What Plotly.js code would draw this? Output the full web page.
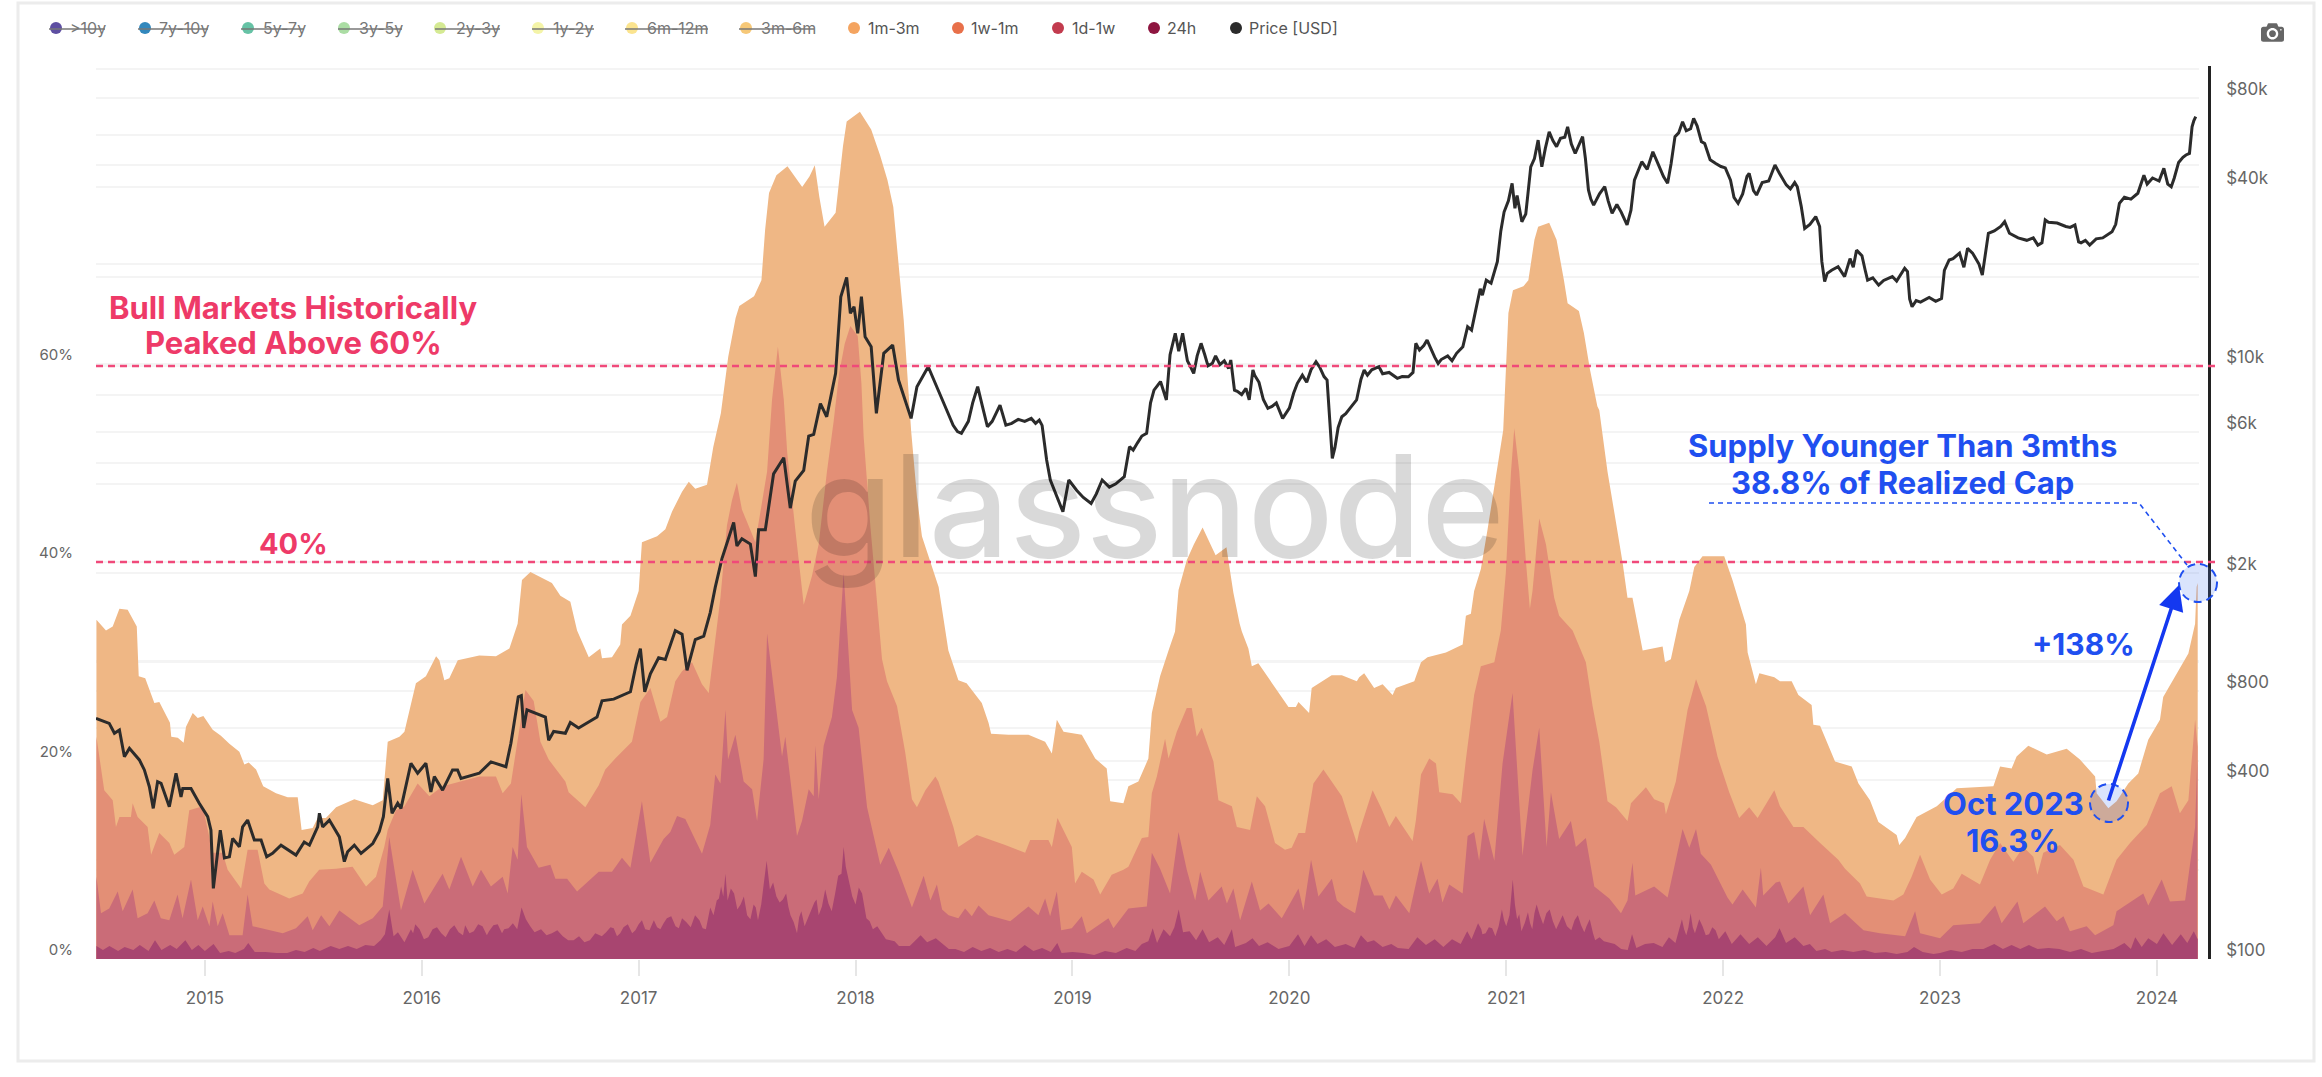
<!DOCTYPE html>
<html><head><meta charset="utf-8">
<script src="https://cdn.plot.ly/plotly-3.0.1.min.js"></script>
<style>
html,body{margin:0;padding:0;background:#fff}
#chart{width:2322px;height:1077px}
.js-plotly-plot .plotly .modebar{top:16px !important;right:34px !important}
.js-plotly-plot .plotly .modebar-btn{font-size:23px !important}
</style></head><body><div id="chart"></div>
<script>
// Stacked age bands: [decimal year, cumulative % of realized cap at the top of the band]
const band1m3m=[[2014.50,34.2],[2014.544,33.1],[2014.575,33.5],[2014.606,35.3],[2014.644,35.2],[2014.686,33.5],[2014.695,28.5],[2014.725,28.3],[2014.767,25.8],[2014.79,25.9],[2014.839,23.8],[2014.845,22.4],[2014.875,22.3],[2014.902,21.8],[2014.913,23.4],[2014.944,24.8],[2014.967,24.3],[2014.993,24.5],[2015.036,23.1],[2015.074,22.5],[2015.113,21.7],[2015.159,20.9],[2015.182,19.6],[2015.202,19.8],[2015.236,19.1],[2015.269,17.4],[2015.328,16.7],[2015.382,16.3],[2015.428,16.3],[2015.446,13.0],[2015.497,13.2],[2015.52,14.2],[2015.558,14.2],[2015.605,15.3],[2015.689,16.1],[2015.774,15.5],[2015.82,16.0],[2015.843,21.9],[2015.897,22.4],[2015.92,22.9],[2015.973,27.8],[2016.019,28.5],[2016.066,30.5],[2016.081,30.1],[2016.104,28.1],[2016.127,28.3],[2016.166,30.1],[2016.265,30.6],[2016.342,30.5],[2016.404,31.3],[2016.442,33.8],[2016.462,38.2],[2016.501,39.0],[2016.60,37.9],[2016.639,36.6],[2016.685,36.0],[2016.716,33.1],[2016.77,30.4],[2016.823,31.3],[2016.831,30.3],[2016.877,30.4],[2016.915,31.7],[2016.923,33.7],[2016.962,34.6],[2017.0,37.1],[2017.015,42.0],[2017.085,42.6],[2017.123,43.3],[2017.154,45.1],[2017.20,47.1],[2017.231,48.1],[2017.261,47.4],[2017.315,47.8],[2017.344,51.6],[2017.379,55.0],[2017.413,60.7],[2017.447,64.6],[2017.464,65.8],[2017.532,66.8],[2017.566,68.4],[2017.583,73.5],[2017.601,77.2],[2017.635,79.0],[2017.686,79.9],[2017.754,77.8],[2017.788,78.9],[2017.812,80.0],[2017.833,76.8],[2017.857,73.8],[2017.908,75.2],[2017.942,81.9],[2017.959,84.4],[2018.02,85.4],[2018.072,83.6],[2018.113,81.0],[2018.147,78.5],[2018.174,75.8],[2018.198,69.8],[2018.222,64.4],[2018.256,53.3],[2018.283,46.6],[2018.306,42.6],[2018.36,38.9],[2018.383,37.5],[2018.428,31.1],[2018.474,28.1],[2018.512,27.8],[2018.582,25.8],[2018.613,23.8],[2018.625,22.7],[2018.705,22.6],[2018.797,22.6],[2018.874,21.9],[2018.905,20.7],[2018.928,24.1],[2018.959,22.9],[2019.043,22.6],[2019.105,20.2],[2019.158,19.2],[2019.174,15.9],[2019.235,15.7],[2019.258,17.4],[2019.304,17.9],[2019.35,20.2],[2019.366,24.8],[2019.404,28.5],[2019.443,31.1],[2019.473,33.0],[2019.489,37.2],[2019.527,40.2],[2019.56,41.8],[2019.60,43.5],[2019.66,40.7],[2019.71,41.5],[2019.719,40.2],[2019.742,36.9],[2019.771,33.8],[2019.781,33.0],[2019.811,31.3],[2019.827,29.5],[2019.857,29.8],[2019.919,27.8],[2019.957,26.6],[2019.996,25.4],[2020.03,25.4],[2020.042,25.9],[2020.091,24.8],[2020.103,27.3],[2020.195,28.6],[2020.242,28.6],[2020.311,28.0],[2020.322,28.4],[2020.345,28.8],[2020.391,27.3],[2020.43,27.7],[2020.476,26.6],[2020.491,27.3],[2020.576,28.0],[2020.607,29.9],[2020.637,30.4],[2020.722,30.9],[2020.799,31.7],[2020.814,34.6],[2020.837,34.8],[2020.852,37.1],[2020.883,39.3],[2020.914,43.3],[2020.952,48.7],[2020.986,53.3],[2021.01,65.1],[2021.031,67.4],[2021.079,67.8],[2021.102,68.4],[2021.13,72.5],[2021.147,73.8],[2021.198,74.2],[2021.232,72.5],[2021.266,68.4],[2021.283,66.1],[2021.335,65.3],[2021.358,63.1],[2021.386,59.4],[2021.42,55.7],[2021.429,55.3],[2021.467,49.1],[2021.506,44.0],[2021.536,40.0],[2021.559,36.4],[2021.582,36.4],[2021.629,31.1],[2021.721,31.5],[2021.732,29.9],[2021.759,30.2],[2021.798,34.2],[2021.844,37.1],[2021.867,39.5],[2021.905,40.6],[2022.005,40.6],[2022.043,38.2],[2022.105,33.7],[2022.113,30.9],[2022.151,27.7],[2022.167,28.8],[2022.236,28.4],[2022.262,28.0],[2022.316,28.0],[2022.347,26.6],[2022.408,25.6],[2022.416,23.6],[2022.447,23.5],[2022.516,19.9],[2022.593,19.4],[2022.624,17.7],[2022.677,16.0],[2022.716,13.8],[2022.80,12.5],[2022.812,11.5],[2022.839,12.2],[2022.892,14.3],[2022.985,15.4],[2023.077,17.2],[2023.246,17.4],[2023.277,19.4],[2023.33,19.2],[2023.353,20.4],[2023.407,21.5],[2023.492,20.6],[2023.584,21.2],[2023.645,20.1],[2023.715,18.4],[2023.722,16.7],[2023.776,15.2],[2023.814,15.9],[2023.868,17.7],[2023.914,18.7],[2023.96,22.1],[2024.014,24.1],[2024.029,26.4],[2024.091,28.8],[2024.145,30.8],[2024.176,33.8],[2024.183,37.5],[2024.188,37.9]];
const band1w1m=[[2014.50,22.4],[2014.536,17.0],[2014.575,16.0],[2014.59,13.3],[2014.606,14.3],[2014.659,14.3],[2014.667,15.7],[2014.69,14.3],[2014.736,13.3],[2014.752,10.5],[2014.79,12.7],[2014.836,11.7],[2014.859,10.5],[2014.905,11.3],[2014.928,15.0],[2014.99,15.4],[2015.036,10.7],[2015.082,10.7],[2015.105,9.0],[2015.167,7.1],[2015.197,11.0],[2015.243,11.0],[2015.274,7.6],[2015.297,7.0],[2015.389,6.1],[2015.451,6.6],[2015.481,7.8],[2015.527,9.0],[2015.605,9.1],[2015.681,9.3],[2015.743,7.3],[2015.789,8.3],[2015.827,11.3],[2015.843,13.0],[2015.881,15.0],[2015.92,15.4],[2015.981,17.7],[2016.035,16.4],[2016.096,17.4],[2016.265,18.4],[2016.342,18.4],[2016.373,16.7],[2016.411,17.7],[2016.45,23.1],[2016.478,27.1],[2016.516,26.0],[2016.547,21.9],[2016.585,20.1],[2016.662,17.9],[2016.677,16.8],[2016.754,15.3],[2016.816,17.5],[2016.846,19.1],[2016.892,20.2],[2016.969,21.9],[2017.008,25.9],[2017.054,27.3],[2017.10,23.9],[2017.131,24.4],[2017.169,28.0],[2017.20,29.0],[2017.246,29.9],[2017.292,27.7],[2017.323,26.8],[2017.346,30.9],[2017.377,36.4],[2017.407,43.7],[2017.43,46.2],[2017.453,48.0],[2017.476,45.3],[2017.538,42.0],[2017.592,49.1],[2017.615,56.4],[2017.642,61.7],[2017.669,56.4],[2017.685,51.0],[2017.722,43.3],[2017.761,35.7],[2017.799,38.6],[2017.83,41.8],[2017.868,49.1],[2017.899,54.2],[2017.925,59.1],[2017.95,62.0],[2017.976,63.8],[2018.01,62.8],[2018.027,58.0],[2018.037,52.7],[2018.068,43.7],[2018.099,36.0],[2018.122,30.2],[2018.145,28.0],[2018.191,25.5],[2018.229,20.8],[2018.26,16.1],[2018.283,15.3],[2018.322,17.0],[2018.368,18.4],[2018.382,17.9],[2018.451,13.3],[2018.474,11.3],[2018.559,12.5],[2018.69,11.5],[2018.782,10.7],[2018.805,12.0],[2018.889,12.0],[2018.905,11.3],[2018.931,14.2],[2018.997,11.3],[2019.012,7.6],[2019.043,8.8],[2019.097,8.0],[2019.128,6.5],[2019.181,8.5],[2019.235,9.0],[2019.258,9.3],[2019.32,12.2],[2019.35,12.3],[2019.366,16.7],[2019.389,18.4],[2019.427,22.2],[2019.443,20.2],[2019.481,22.9],[2019.527,25.3],[2019.55,25.3],[2019.573,22.4],[2019.596,23.3],[2019.65,19.9],[2019.673,16.0],[2019.735,15.4],[2019.758,13.3],[2019.819,13.0],[2019.85,16.4],[2019.888,15.4],[2019.934,11.7],[2019.98,11.0],[2020.011,11.2],[2020.042,12.7],[2020.073,12.7],[2020.111,17.7],[2020.157,19.1],[2020.242,16.4],[2020.311,11.7],[2020.322,12.8],[2020.384,17.0],[2020.422,15.3],[2020.461,13.3],[2020.491,14.4],[2020.568,11.9],[2020.583,13.9],[2020.607,18.6],[2020.645,20.2],[2020.676,19.7],[2020.691,16.8],[2020.753,16.6],[2020.791,15.7],[2020.814,20.1],[2020.852,26.6],[2020.883,29.5],[2020.945,29.9],[2020.975,33.1],[2020.998,38.9],[2021.022,49.1],[2021.037,53.5],[2021.06,49.1],[2021.091,40.0],[2021.109,35.3],[2021.121,37.1],[2021.152,44.4],[2021.183,41.8],[2021.221,36.4],[2021.244,34.6],[2021.306,33.1],[2021.367,29.9],[2021.398,25.5],[2021.429,21.9],[2021.467,15.9],[2021.506,15.3],[2021.559,13.9],[2021.575,15.7],[2021.644,17.3],[2021.682,16.1],[2021.728,15.7],[2021.736,14.6],[2021.782,17.9],[2021.836,25.1],[2021.875,28.2],[2021.921,25.5],[2021.974,20.4],[2022.028,16.8],[2022.074,14.2],[2022.12,15.3],[2022.159,14.2],[2022.236,17.0],[2022.262,15.4],[2022.324,13.3],[2022.37,13.3],[2022.447,11.7],[2022.531,10.0],[2022.562,9.1],[2022.631,7.6],[2022.662,6.3],[2022.785,5.9],[2022.831,6.5],[2022.869,8.3],[2022.908,10.5],[2022.954,8.0],[2023.008,6.5],[2023.061,7.1],[2023.10,8.6],[2023.184,7.5],[2023.231,10.0],[2023.277,11.7],[2023.338,9.8],[2023.384,11.3],[2023.43,10.3],[2023.449,8.5],[2023.476,10.7],[2023.553,11.5],[2023.615,10.0],[2023.661,7.3],[2023.753,6.5],[2023.814,10.0],[2023.876,11.7],[2023.953,13.5],[2024.014,16.7],[2024.068,17.4],[2024.106,14.7],[2024.145,16.0],[2024.176,24.1],[2024.188,21.4]];
const band1d1w=[[2014.50,8.3],[2014.521,4.6],[2014.559,5.1],[2014.598,6.8],[2014.621,4.8],[2014.667,7.0],[2014.69,4.1],[2014.736,4.6],[2014.767,5.9],[2014.797,4.1],[2014.836,3.9],[2014.874,6.5],[2014.897,4.1],[2014.936,8.0],[2014.967,3.9],[2014.99,5.3],[2015.021,3.3],[2015.036,5.8],[2015.059,3.3],[2015.082,4.6],[2015.113,2.4],[2015.174,2.4],[2015.197,6.5],[2015.22,3.3],[2015.359,2.6],[2015.42,3.1],[2015.474,4.3],[2015.497,2.9],[2015.536,4.4],[2015.574,3.3],[2015.62,4.9],[2015.712,3.4],[2015.774,4.1],[2015.82,5.3],[2015.85,12.3],[2015.904,4.9],[2015.958,9.0],[2016.012,5.6],[2016.096,8.6],[2016.127,7.0],[2016.181,10.3],[2016.235,7.3],[2016.273,9.0],[2016.319,7.3],[2016.373,8.3],[2016.396,6.6],[2016.419,11.3],[2016.442,10.0],[2016.459,16.6],[2016.485,11.3],[2016.539,9.2],[2016.593,9.5],[2016.616,8.1],[2016.67,8.1],[2016.716,6.8],[2016.816,8.8],[2016.877,8.8],[2016.923,10.2],[2016.962,9.2],[2017.015,15.9],[2017.054,9.7],[2017.115,12.1],[2017.146,12.8],[2017.177,14.4],[2017.215,14.1],[2017.292,10.6],[2017.33,13.5],[2017.353,18.6],[2017.377,17.7],[2017.40,25.1],[2017.412,20.1],[2017.446,22.6],[2017.484,17.9],[2017.523,17.1],[2017.546,13.9],[2017.576,20.1],[2017.592,32.8],[2017.63,25.9],[2017.661,20.4],[2017.676,22.4],[2017.699,17.9],[2017.73,12.4],[2017.753,13.9],[2017.784,17.1],[2017.807,16.4],[2017.815,21.5],[2017.83,16.1],[2017.853,21.5],[2017.891,24.4],[2017.914,28.4],[2017.945,38.9],[2017.984,25.1],[2018.014,23.3],[2018.053,15.3],[2018.114,9.5],[2018.153,11.2],[2018.199,8.8],[2018.26,5.2],[2018.314,8.4],[2018.345,5.9],[2018.375,7.5],[2018.399,5.0],[2018.429,4.4],[2018.474,4.1],[2018.505,5.1],[2018.536,4.3],[2018.567,5.4],[2018.613,4.4],[2018.713,3.8],[2018.797,5.3],[2018.843,4.4],[2018.874,6.1],[2018.897,4.3],[2018.928,6.8],[2018.948,2.9],[2018.997,3.1],[2019.043,4.3],[2019.066,2.6],[2019.166,4.1],[2019.189,3.1],[2019.258,5.1],[2019.343,5.3],[2019.366,10.7],[2019.404,9.1],[2019.45,6.6],[2019.489,12.8],[2019.527,9.0],[2019.566,5.9],[2019.589,8.8],[2019.627,5.9],[2019.688,7.3],[2019.712,5.6],[2019.742,7.1],[2019.773,3.9],[2019.827,7.8],[2019.865,4.9],[2019.904,5.6],[2019.965,4.1],[2020.042,7.1],[2020.065,4.9],[2020.10,10.0],[2020.134,6.3],[2020.196,8.1],[2020.219,5.9],[2020.25,5.3],[2020.303,4.6],[2020.322,6.6],[2020.341,9.0],[2020.391,6.4],[2020.43,6.4],[2020.461,5.0],[2020.491,6.4],[2020.553,4.6],[2020.607,9.9],[2020.645,6.6],[2020.683,8.1],[2020.706,5.7],[2020.737,7.5],[2020.799,6.6],[2020.822,12.4],[2020.852,12.8],[2020.875,9.9],[2020.898,14.1],[2020.945,9.9],[2020.983,19.7],[2021.029,26.8],[2021.075,10.4],[2021.121,19.0],[2021.152,23.3],[2021.186,11.3],[2021.206,16.8],[2021.244,12.1],[2021.298,13.9],[2021.321,11.3],[2021.367,12.2],[2021.406,7.3],[2021.475,6.1],[2021.529,4.6],[2021.559,5.9],[2021.582,9.7],[2021.595,6.4],[2021.682,7.3],[2021.744,6.2],[2021.813,13.1],[2021.844,11.2],[2021.875,13.1],[2021.897,10.6],[2021.944,9.5],[2022.02,6.2],[2022.043,5.5],[2022.09,7.0],[2022.151,5.2],[2022.174,9.2],[2022.185,6.4],[2022.243,7.7],[2022.262,7.8],[2022.301,5.6],[2022.37,7.3],[2022.401,4.4],[2022.462,6.5],[2022.493,3.6],[2022.562,4.6],[2022.647,2.9],[2022.723,2.6],[2022.839,2.3],[2022.885,4.8],[2022.908,2.6],[2023.0,2.1],[2023.061,3.4],[2023.184,3.6],[2023.254,5.4],[2023.284,3.6],[2023.357,5.8],[2023.384,3.6],[2023.484,5.3],[2023.538,3.8],[2023.569,4.3],[2023.599,2.8],[2023.676,3.3],[2023.715,2.4],[2023.799,3.4],[2023.814,4.8],[2023.937,6.6],[2023.96,5.4],[2024.022,8.0],[2024.06,5.8],[2024.13,5.9],[2024.176,13.3],[2024.186,20.1]];
const band24h=[[2014.50,1.3],[2014.53,.9],[2014.56,1.3],[2014.60,.8],[2014.63,1.2],[2014.67,.9],[2014.70,1.4],[2014.74,.8],[2014.77,1.9],[2014.80,.9],[2014.84,1.4],[2014.87,1.0],[2014.91,1.9],[2014.94,.9],[2014.97,1.4],[2015.0,.8],[2015.04,1.5],[2015.07,.6],[2015.11,.8],[2015.14,.6],[2015.18,1.0],[2015.20,1.6],[2015.23,.7],[2015.28,.7],[2015.33,.6],[2015.38,.6],[2015.42,.9],[2015.46,.7],[2015.50,1.1],[2015.53,.8],[2015.58,1.3],[2015.62,1.0],[2015.66,1.3],[2015.70,1.0],[2015.74,1.4],[2015.78,1.3],[2015.81,1.9],[2015.83,2.5],[2015.85,5.0],[2015.87,2.3],[2015.89,2.7],[2015.92,1.7],[2015.95,3.0],[2015.97,3.5],[2016.01,2.0],[2016.05,3.0],[2016.09,2.6],[2016.13,3.0],[2016.17,2.7],[2016.20,3.4],[2016.24,2.8],[2016.28,3.3],[2016.31,2.8],[2016.35,3.5],[2016.38,3.0],[2016.42,3.6],[2016.44,3.0],[2016.46,5.2],[2016.50,3.3],[2016.55,3.0],[2016.60,2.6],[2016.65,2.3],[2016.70,1.9],[2016.75,1.7],[2016.80,2.6],[2016.83,2.3],[2016.87,3.2],[2016.90,2.3],[2016.93,3.2],[2016.97,2.6],[2017.0,3.5],[2017.03,3.0],[2017.07,3.9],[2017.10,3.0],[2017.13,4.1],[2017.17,3.3],[2017.20,4.1],[2017.24,3.2],[2017.28,3.9],[2017.31,3.0],[2017.33,5.2],[2017.36,5.9],[2017.38,7.3],[2017.40,8.6],[2017.41,5.9],[2017.44,6.6],[2017.47,5.5],[2017.50,4.4],[2017.53,5.5],[2017.55,3.9],[2017.58,8.1],[2017.59,9.9],[2017.62,7.7],[2017.65,5.7],[2017.68,6.6],[2017.70,4.4],[2017.73,2.6],[2017.75,4.8],[2017.78,4.1],[2017.81,5.7],[2017.83,4.4],[2017.86,7.0],[2017.89,4.8],[2017.92,8.4],[2017.945,11.3],[2017.97,7.7],[2018.0,5.5],[2018.03,6.6],[2018.05,4.1],[2018.08,3.0],[2018.12,2.6],[2018.16,1.9],[2018.20,1.3],[2018.25,1.3],[2018.30,2.4],[2018.33,1.7],[2018.37,2.1],[2018.40,1.5],[2018.43,1.0],[2018.46,1.0],[2018.50,.7],[2018.54,1.2],[2018.58,.8],[2018.62,1.1],[2018.66,.7],[2018.70,1.0],[2018.74,.7],[2018.78,1.4],[2018.82,.8],[2018.86,1.1],[2018.90,.7],[2018.93,1.6],[2018.95,.6],[2019.0,.7],[2019.05,.6],[2019.10,.4],[2019.15,.8],[2019.20,.6],[2019.25,1.1],[2019.29,.8],[2019.32,1.5],[2019.35,1.8],[2019.37,3.1],[2019.39,1.6],[2019.42,3.0],[2019.45,2.3],[2019.47,3.2],[2019.49,5.0],[2019.51,2.7],[2019.54,2.8],[2019.57,1.9],[2019.60,3.0],[2019.63,1.7],[2019.67,2.2],[2019.70,1.4],[2019.735,3.0],[2019.75,1.2],[2019.80,1.6],[2019.83,2.1],[2019.86,1.3],[2019.90,1.7],[2019.95,1.0],[2020.0,1.3],[2020.04,2.5],[2020.07,1.3],[2020.10,2.4],[2020.13,1.5],[2020.17,2.0],[2020.21,1.2],[2020.26,1.5],[2020.30,1.1],[2020.33,2.4],[2020.36,1.7],[2020.39,1.9],[2020.43,1.2],[2020.47,1.5],[2020.50,1.1],[2020.55,1.0],[2020.59,2.2],[2020.63,1.4],[2020.67,2.0],[2020.71,1.2],[2020.75,2.0],[2020.79,1.5],[2020.82,2.8],[2020.84,2.0],[2020.87,3.6],[2020.89,2.5],[2020.92,3.2],[2020.95,2.3],[2020.98,5.0],[2021.0,3.3],[2021.03,8.0],[2021.05,4.0],[2021.07,2.8],[2021.10,4.7],[2021.12,3.0],[2021.14,5.5],[2021.17,3.5],[2021.20,5.0],[2021.23,3.0],[2021.26,4.4],[2021.30,2.9],[2021.33,4.4],[2021.36,2.7],[2021.385,4.0],[2021.41,1.9],[2021.45,1.8],[2021.50,1.5],[2021.53,1.0],[2021.56,.9],[2021.58,2.5],[2021.60,1.1],[2021.64,1.5],[2021.68,1.6],[2021.72,1.2],[2021.75,2.2],[2021.78,1.6],[2021.81,4.0],[2021.83,2.4],[2021.85,4.6],[2021.87,2.6],[2021.89,4.0],[2021.92,2.4],[2021.95,3.2],[2021.98,2.0],[2022.01,2.8],[2022.04,1.5],[2022.08,2.5],[2022.12,1.5],[2022.16,2.2],[2022.20,1.3],[2022.24,2.2],[2022.26,3.1],[2022.29,1.6],[2022.33,2.2],[2022.37,1.3],[2022.40,1.5],[2022.43,.8],[2022.47,1.0],[2022.50,.7],[2022.55,.9],[2022.60,.7],[2022.65,.9],[2022.70,.6],[2022.75,.7],[2022.80,.5],[2022.85,.7],[2022.88,1.2],[2022.92,.7],[2022.97,.5],[2023.0,.6],[2023.05,.9],[2023.10,.7],[2023.15,1.0],[2023.20,1.0],[2023.25,1.5],[2023.29,1.0],[2023.33,1.4],[2023.37,1.0],[2023.41,1.4],[2023.45,1.0],[2023.50,1.1],[2023.55,1.0],[2023.60,.7],[2023.65,1.0],[2023.70,.6],[2023.75,.8],[2023.80,1.0],[2023.85,1.6],[2023.88,1.0],[2023.90,2.2],[2023.93,1.2],[2023.96,2.1],[2024.0,1.5],[2024.03,2.6],[2024.07,1.4],[2024.11,2.5],[2024.14,1.6],[2024.17,2.8],[2024.188,2.0]];
// Finer readings of the spiky 24h band
const band24hDetail=[[2015.96,2.6],[2015.99,3.0],[2016.03,2.2],[2016.07,3.2],[2016.11,2.2],[2016.15,3.4],[2016.19,2.4],[2016.22,2.6],[2016.26,3.5],[2016.30,2.4],[2016.33,3.4],[2016.37,2.6],[2016.40,3.1],[2016.48,4.0],[2016.52,2.7],[2016.575,2.4],[2016.625,2.9],[2016.675,1.9],[2016.725,2.3],[2016.775,1.9],[2016.85,2.7],[2016.885,3.1],[2016.915,2.6],[2016.95,3.5],[2016.985,2.9],[2017.015,3.9],[2017.05,2.9],[2017.085,3.2],[2017.115,3.6],[2017.15,4.3],[2017.185,3.1],[2017.22,3.7],[2017.26,4.4],[2017.295,3.1],[2017.345,4.4],[2017.37,6.1],[2017.39,6.3],[2017.425,7.1],[2017.455,5.0],[2017.485,6.3],[2017.515,4.0],[2017.54,5.2],[2017.565,5.5],[2017.605,7.0],[2017.635,6.3],[2017.665,6.0],[2017.69,5.3],[2017.715,3.7],[2017.74,4.2],[2017.765,3.3],[2017.795,4.9],[2017.82,6.0],[2017.845,5.3],[2017.875,5.6],[2017.905,6.5],[2017.935,8.6],[2017.955,9.3],[2017.985,6.3],[2018.015,7.2],[2018.04,5.2],[2018.065,3.8],[2018.10,3.3],[2018.14,2.0],[2018.18,1.8],[2020.885,3.0],[2020.905,2.6],[2020.935,3.1],[2020.965,3.3],[2020.99,3.9],[2021.015,4.4],[2021.04,5.5],[2021.06,4.5],[2021.085,3.6],[2021.11,3.6],[2021.13,4.6],[2021.155,4.4],[2021.185,4.6],[2021.215,3.8],[2021.245,3.7],[2021.28,3.3],[2021.315,3.9],[2021.345,3.4],[2021.37,3.3],[2021.40,2.6],[2021.43,2.2],[2021.82,3.0],[2021.84,3.2],[2021.86,3.2],[2021.88,3.3],[2021.905,3.3],[2021.935,2.5],[2021.965,2.9],[2021.995,2.4]];
// Bitcoin price: [decimal year, USD]
const priceUsd=[[2014.498,648],[2014.559,623],[2014.583,577],[2014.606,592],[2014.629,481],[2014.652,513],[2014.698,469],[2014.721,434],[2014.744,381],[2014.762,322],[2014.782,396],[2014.798,391],[2014.836,326],[2014.867,423],[2014.89,352],[2014.898,376],[2014.936,376],[2014.974,335],[2015.013,302],[2015.028,272],[2015.039,173],[2015.054,216],[2015.071,272],[2015.09,219],[2015.113,221],[2015.128,255],[2015.159,239],[2015.174,279],[2015.197,294],[2015.228,252],[2015.259,252],[2015.285,221],[2015.312,227],[2015.351,242],[2015.42,224],[2015.458,248],[2015.482,242],[2015.52,279],[2015.528,310],[2015.543,279],[2015.574,294],[2015.62,258],[2015.643,213],[2015.658,230],[2015.689,242],[2015.72,227],[2015.774,245],[2015.804,269],[2015.823,302],[2015.843,406],[2015.863,310],[2015.889,335],[2015.904,322],[2015.95,457],[2015.981,423],[2016.019,457],[2016.042,366],[2016.058,412],[2016.096,371],[2016.142,434],[2016.165,434],[2016.181,406],[2016.265,423],[2016.319,462],[2016.388,445],[2016.411,534],[2016.445,766],[2016.459,773],[2016.47,601],[2016.485,692],[2016.524,673],[2016.57,654],[2016.585,546],[2016.608,585],[2016.662,577],[2016.685,627],[2016.723,601],[2016.769,627],[2016.808,654],[2016.831,742],[2016.885,752],[2016.962,796],[2016.988,981],[2017.008,1113],[2017.028,796],[2017.054,915],[2017.092,1037],[2017.123,1023],[2017.169,1280],[2017.2,1245],[2017.223,940],[2017.261,1194],[2017.3,1227],[2017.33,1472],[2017.353,1790],[2017.384,2239],[2017.4,2437],[2017.438,2963],[2017.453,2470],[2017.476,2612],[2017.515,2506],[2017.538,1947],[2017.553,2800],[2017.584,2800],[2017.622,4324],[2017.669,4899],[2017.699,3313],[2017.722,4086],[2017.761,4444],[2017.784,5798],[2017.807,5877],[2017.838,7455],[2017.867,6735],[2017.908,9434],[2017.932,17100],[2017.959,19870],[2017.976,15030],[2017.993,15820],[2018.01,12880],[2018.027,17100],[2018.044,12530],[2018.072,11590],[2018.096,6918],[2018.13,11020],[2018.171,11750],[2018.198,8954],[2018.256,6651],[2018.283,8505],[2018.335,9931],[2018.369,8730],[2018.42,7096],[2018.488,5922],[2018.563,8505],[2018.608,6232],[2018.666,7375],[2018.693,6311],[2018.847,6564],[2018.881,4813],[2018.898,4121],[2018.956,3221],[2018.983,4121],[2019.086,3437],[2019.137,4121],[2019.239,4227],[2019.263,5337],[2019.342,5922],[2019.376,8279],[2019.406,8851],[2019.433,7674],[2019.474,12880],[2019.508,12880],[2019.559,9434],[2019.593,11910],[2019.645,10190],[2019.73,10460],[2019.747,8279],[2019.815,7674],[2019.832,9683],[2019.901,7190],[2019.969,6651],[2020.037,8730],[2020.123,10320],[2020.174,8954],[2020.198,4878],[2020.242,6735],[2020.31,7674],[2020.345,9683],[2020.413,9931],[2020.498,9078],[2020.549,9183],[2020.583,11910],[2020.635,12220],[2020.686,10190],[2020.771,11020],[2020.822,13550],[2020.908,19450],[2020.959,22440],[2021.027,41250],[2021.072,30620],[2021.113,46900],[2021.147,57680],[2021.164,46900],[2021.198,61520],[2021.232,54800],[2021.283,63970],[2021.318,52000],[2021.352,59290],[2021.379,39170],[2021.403,34830],[2021.454,40180],[2021.488,32660],[2021.557,29850],[2021.591,42270],[2021.625,48770],[2021.676,52720],[2021.744,41250],[2021.778,59290],[2021.813,66530],[2021.864,68230],[2021.915,56230],[2021.966,48100],[2022.034,42270],[2022.069,35320],[2022.12,44560],[2022.154,37670],[2022.239,47530],[2022.291,40740],[2022.342,40180],[2022.376,29040],[2022.427,31840],[2022.468,19230],[2022.53,21580],[2022.615,24550],[2022.666,19450],[2022.717,18710],[2022.837,21330],[2022.871,15820],[2023.007,16870],[2023.042,22750],[2023.127,24890],[2023.195,20230],[2023.223,27990],[2023.298,30620],[2023.451,25530],[2023.485,31040],[2023.622,29850],[2023.639,26180],[2023.69,25530],[2023.793,28310],[2023.827,35320],[2023.912,38190],[2023.94,43950],[2024.032,46340],[2024.066,40180],[2024.134,51400],[2024.162,63970],[2024.179,69180]];
// Finer readings of the price line where the first pass was sparse
const priceDetail=[[2018.45,6300],[2018.47,6000],[2018.52,6500],[2018.54,7500],[2018.585,7300],[2018.63,6500],[2018.65,7000],[2018.72,6400],[2018.75,6600],[2018.78,6500],[2018.81,6650],[2018.83,6400],[2018.86,6300],[2019.02,3800],[2019.05,3600],[2019.11,3700],[2019.17,3900],[2019.20,4000],[2019.28,5200],[2019.30,5500],[2019.32,5800],[2019.36,7500],[2019.45,10900],[2019.49,11200],[2019.52,11500],[2019.53,10400],[2019.545,9900],[2019.575,10800],[2019.61,10900],[2019.625,10000],[2019.66,10800],[2019.68,10100],[2019.70,10400],[2019.72,9800],[2019.76,8200],[2019.78,8000],[2019.80,8400],[2019.84,9300],[2019.86,8800],[2019.88,7700],[2019.92,7300],[2019.94,7500],[2020.0,7200],[2020.02,8100],[2020.06,9300],[2020.08,8800],[2020.10,9700],[2020.14,9900],[2020.16,9200],[2020.21,5300],[2020.225,6200],[2020.26,6900],[2020.28,7200],[2020.33,9000],[2020.36,9300],[2020.38,9700],[2020.43,9400],[2020.46,9500],[2020.48,9300],[2020.52,9200],[2020.57,9500],[2020.60,11300],[2020.62,11700],[2020.65,11500],[2020.67,10700],[2020.70,10500],[2020.73,10800],[2020.75,10400],[2020.80,11600],[2020.84,13200],[2020.86,15500],[2020.88,18200],[2020.89,17300],[2020.93,19000],[2020.975,28500],[2020.99,33000],[2021.01,36000],[2021.04,34000],[2021.05,37500],[2021.09,32500],[2021.10,38000],[2021.13,50000],[2021.155,52000],[2021.18,54000],[2021.215,57500],[2021.25,58500],[2021.27,59000],[2021.30,56000],[2021.335,55500],[2021.365,50000],[2021.39,36500],[2021.43,38000],[2021.47,36000],[2021.51,35000],[2021.53,33000],[2021.575,33500],[2021.61,45500],[2021.65,46000],[2021.70,48000],[2021.725,43500],[2021.76,48000],[2021.795,61000],[2021.83,62000],[2021.85,63000],[2021.88,64500],[2021.90,57000],[2021.94,49500],[2021.99,47000],[2022.01,46500],[2022.05,37000],[2022.09,38000],[2022.11,43500],[2022.14,39000],[2022.18,41500],[2022.21,42000],[2022.26,44500],[2022.31,39500],[2022.33,41500],[2022.36,34500],[2022.40,30000],[2022.445,29500],[2022.455,22500],[2022.48,20500],[2022.50,21000],[2022.56,20000],[2022.585,23000],[2022.60,21500],[2022.64,23500],[2022.655,21000],[2022.69,19800],[2022.74,19400],[2022.78,20000],[2022.80,19300],[2022.85,20800],[2022.86,16800],[2022.89,16600],[2022.91,16400],[2022.95,17000],[2022.98,16500],[2023.02,21000],[2023.06,23000],[2023.09,24000],[2023.11,21500],[2023.15,24000],[2023.18,22000],[2023.21,24500],[2023.25,28500],[2023.28,29500],[2023.32,28000],[2023.36,27000],[2023.40,26500],[2023.43,27000],[2023.47,26000],[2023.50,30500],[2023.54,30300],[2023.58,29500],[2023.60,29300],[2023.65,26000],[2023.67,26500],[2023.72,26800],[2023.75,27000],[2023.81,30000],[2023.85,37000],[2023.88,36500],[2023.93,42000],[2023.955,41000],[2023.98,43000],[2024.01,42000],[2024.05,41000],[2024.08,43000],[2024.10,48500],[2024.12,50500],[2024.15,52000],[2024.17,67000]];
// Legend names and colours
const legendNames=['>10y','7y-10y','5y-7y','3y-5y','2y-3y','1y-2y','6m-12m','3m-6m','1m-3m','1w-1m','1d-1w','24h','Price [USD]'];
const legendColors=['#5e4fa2','#3288bd','#66c2a5','#abdda4','#d5ea93','#f4f4a8','#fbe48f','#f6c878','#f4a460','#e8704a','#c23b4e','#8e1540','#2b2b2b'];
// Axis ticks
const xTicks=[2015,2016,2017,2018,2019,2020,2021,2022,2023,2024];
const pctTicks=[0,10,20,30,40,50,60,70,80,90];
const pctText=['0%','','20%','','40%','','60%','','',''];
const usdTicks=[100,200,400,600,800,1000,2000,4000,6000,8000,10000,20000,40000,60000,80000,100000];
const usdText=['$100','','$400','','$800','','$2k','','$6k','','$10k','','$40k','','$80k',''];
const fillColors=['#efb785','#e38f76','#ca6c78','#a84570'];
const merged=(a,b)=>a.concat(b).sort((p,q)=>p[0]-q[0]);
const bands=[band1m3m,band1w1m,band1d1w,merged(band24h,band24hDetail)];
const priceLine=merged(priceUsd,priceDetail);

const L=96,R=2199,T=66,B=959;
const px=x=>(x-L)/(R-L), py=y=>(B-y)/(B-T);
const blue='#1f4ff0', red='#ee3a68', dashRed='#f0497a';

const traces=[];
bands.forEach((b,i)=>traces.push({type:'scatter',mode:'lines',x:b.map(p=>p[0]),y:b.map(p=>p[1]),
  fill:'tozeroy',fillcolor:fillColors[i],line:{width:0,color:fillColors[i]},showlegend:false,name:legendNames[8+i],hoverinfo:'skip'}));
traces.push({type:'scatter',mode:'lines',x:priceLine.map(p=>p[0]),y:priceLine.map(p=>p[1]),yaxis:'y2',
  line:{color:'#2b2b2b',width:3},showlegend:false,name:'Price [USD]'});

const legendDotX=[56,145,248,344,440,538,632,746,854,958,1058,1154,1236];
const legendTextX=[68,157,261,357,454,551,645,759,866,969,1070,1165,1247];
const strike=[[49,105],[138,208],[241,304],[338,402],[435,500],[532,594],[625,708],[739,814]];
const shapes=[
  {type:'rect',xref:'paper',yref:'paper',x0:px(18),x1:px(2314),y0:py(1061),y1:py(3),line:{color:'#ececec',width:3},layer:'below'},
  {type:'line',xref:'paper',yref:'paper',x0:px(96),x1:px(2216),y0:py(366),y1:py(366),line:{color:dashRed,width:2.6,dash:'7px,5px'}},
  {type:'line',xref:'paper',yref:'paper',x0:px(96),x1:px(2216),y0:py(562),y1:py(562),line:{color:dashRed,width:2.6,dash:'7px,5px'}},
  {type:'path',xref:'paper',yref:'paper',path:`M ${px(1709)} ${py(503)} L ${px(2139)} ${py(503)} L ${px(2187)} ${py(565)}`,line:{color:blue,width:1.6,dash:'5px,4px'}},
  {type:'circle',xref:'paper',yref:'paper',x0:px(2179),x1:px(2217),y0:py(602),y1:py(564),fillcolor:'rgba(70,120,240,0.2)',line:{color:blue,width:2,dash:'8px,5px'}},
  {type:'circle',xref:'paper',yref:'paper',x0:px(2090),x1:px(2128),y0:py(822),y1:py(784),fillcolor:'rgba(70,120,240,0.2)',line:{color:blue,width:2,dash:'8px,5px'}},
].concat(legendDotX.map((x,i)=>({type:'circle',xref:'paper',yref:'paper',x0:px(x-6),x1:px(x+6),y0:py(34),y1:py(22),fillcolor:legendColors[i],line:{width:0}})))
 .concat(strike.map(s=>({type:'line',xref:'paper',yref:'paper',x0:px(s[0]),x1:px(s[1]),y0:py(29),y1:py(29),line:{color:'#777',width:1.6}})));

const ann=(text,x,y,color,size,extra)=>Object.assign({text,x:px(x),y:py(y),xref:'paper',yref:'paper',showarrow:false,xanchor:'center',yanchor:'middle',align:'center',
  font:{family:'Inter',size,color,weight:700}},extra||{});
const annotations=[
  ann('glassnode',1155,505,'rgba(0,0,0,0.15)',142,{font:{family:'Inter',size:142,color:'rgba(0,0,0,0.15)',weight:500}}),
  ann('Bull Markets Historically',293,307,red,31),
  ann('Peaked Above 60%',293,343,red,31),
  ann('40%',293,543,red,29),
  ann('Supply Younger Than 3mths',1902,445,blue,31),
  ann('38.8% of Realized Cap',1902,483,blue,31),
  ann('+138%',2083,644,blue,30),
  ann('Oct 2023',2013,803,blue,31),
  ann('16.3%',2013,840,blue,31),
  {x:px(2179),y:py(585),xref:'paper',yref:'paper',ax:-71,ay:217,text:'',showarrow:true,arrowhead:2,arrowsize:1.4,arrowwidth:3.6,arrowcolor:'#1438f0'}
].concat(legendNames.map((n,i)=>({text:n,x:px(legendTextX[i]),y:py(28),xref:'paper',yref:'paper',showarrow:false,xanchor:'left',yanchor:'middle',
  font:{family:'Inter',size:16,color:i<8?'#777':'#555'}})));

const layout={
  width:2322,height:1077,paper_bgcolor:'#fff',plot_bgcolor:'#fff',
  margin:{l:L,r:2322-R,t:T,b:1077-B,pad:0},
  font:{family:'Inter',color:'#666'},
  showlegend:false,
  xaxis:{type:'linear',range:[2014.498,2024.194],tickvals:xTicks,ticktext:xTicks.map(String),ticks:'outside',ticklen:16,tickcolor:'#e6e6e6',tickwidth:1.5,
    showgrid:false,zeroline:false,showline:false,tickfont:{size:17,color:'#666',family:'Inter'},ticklabelstandoff:8},
  yaxis:{range:[0,90],tickvals:pctTicks,ticktext:pctText,showgrid:true,gridcolor:'#f4f4f4',gridwidth:2,zeroline:false,showline:false,ticks:'',
    tickfont:{size:15,color:'#666',family:'Inter'},ticklabelshift:-9,ticklabelstandoff:22},
  yaxis2:{type:'log',range:[2,5.011],overlaying:'y',side:'right',anchor:'free',position:1,shift:10,tickvals:usdTicks,ticktext:usdText,showgrid:true,gridcolor:'#f4f4f4',gridwidth:2,
    zeroline:false,showline:true,linecolor:'#222',linewidth:2.5,ticks:'',tickfont:{size:17,color:'#666',family:'Inter'},ticklabelshift:-9,ticklabelstandoff:12},
  modebar:{bgcolor:'rgba(0,0,0,0)',color:'#666',activecolor:'#333'},
  shapes,annotations,hovermode:false
};
Plotly.newPlot('chart',traces,layout,{displayModeBar:true,displaylogo:false,modeBarButtons:[['toImage']],responsive:false});
</script></body></html>
